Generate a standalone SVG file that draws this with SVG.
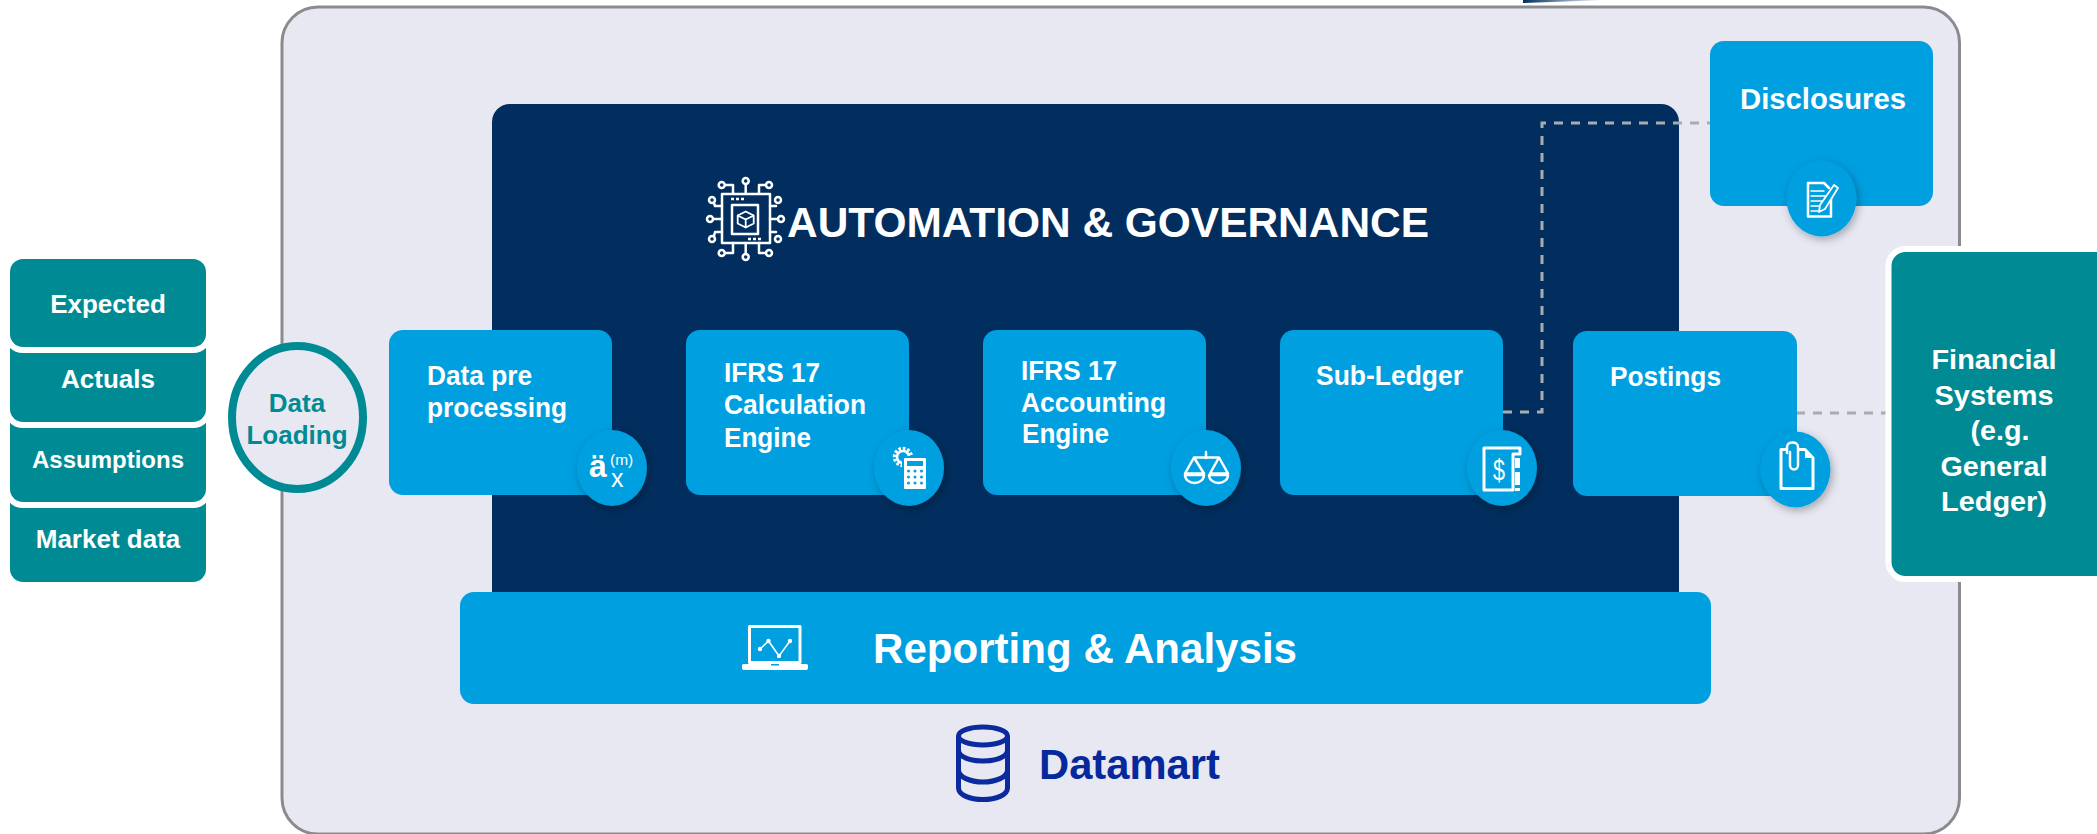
<svg xmlns="http://www.w3.org/2000/svg" width="2097" height="834" viewBox="0 0 2097 834">
<defs>
<linearGradient id="fade" x1="0" x2="1" y1="0" y2="0"><stop offset="0" stop-color="#012e5e"/><stop offset="1" stop-color="#012e5e" stop-opacity="0"/></linearGradient>
<filter id="sh" x="-30%" y="-30%" width="160%" height="160%"><feDropShadow dx="2" dy="3" stdDeviation="4" flood-color="#000" flood-opacity="0.3"/></filter>
</defs>
<style>
text{font-family:"Liberation Sans",Arial,sans-serif;font-weight:700;fill:#fff}
.b{fill:#009fe0}
.t{fill:#008b94}
.st{fill:#008b94;stroke:#fff;stroke-width:12;paint-order:stroke}
.bub{fill:#009fe0;filter:url(#sh)}
.ic{fill:none;stroke:#fff;stroke-width:2.5;stroke-linejoin:round;stroke-linecap:round}
.w{fill:#fff}
.c{text-anchor:middle}
.n{font-weight:400}
.d{fill:none;stroke:#a9abaf;stroke-width:3;stroke-dasharray:9 8}
</style>
<path d="M1523 0H1606L1523 3Z" fill="url(#fade)"/>
<g id="outer"><rect x="282" y="7" width="1677.500" height="827" rx="36" fill="#e7e8f2" stroke="#8b8b8f" stroke-width="3"/></g>
<g id="automation">
<rect x="492" y="104" width="1187" height="510" rx="18" fill="#012e5e"/>
<g id="chip" class="ic">
<rect x="722" y="194" width="48" height="49"/>
<rect x="732" y="205" width="26" height="29"/>
<path d="M745.700 211.500l-8 4v8l8 4 8-4v-8zM737.700 215.500l8 4 8-4M745.700 219.500v8" style="stroke-width:1.800"/>
<path d="M745.700 193v-9M722 219h-9M770 219h8M745.700 243v11M733 193v-8h-8M759 193v-8h7M722 206h-7l-1-3M722 232h-7l-1 4M770 206h6M770 232h6M733 243v10h-8M759 243v10h7"/>
<g fill="#012e5e"><circle cx="745.700" cy="181" r="3"/><circle cx="721.700" cy="185" r="3"/><circle cx="769" cy="185" r="3"/><circle cx="712" cy="200" r="3"/><circle cx="778" cy="200" r="3"/><circle cx="710" cy="219" r="3"/><circle cx="781" cy="219" r="3"/><circle cx="712" cy="239" r="3"/><circle cx="778" cy="239" r="3"/><circle cx="721.700" cy="253" r="3"/><circle cx="769" cy="253" r="3"/><circle cx="745.700" cy="257" r="3"/></g>
</g>
<path d="M731 199h3M736 199h3M741 199h3M748 239h3M753 239h3M758 239h3" stroke="#fff" stroke-width="2.500"/>
<text x="787" y="237" font-size="42" textLength="642" lengthAdjust="spacingAndGlyphs">AUTOMATION &amp; GOVERNANCE</text>
</g>
<g id="connectors">
<path class="d" d="M1503 412H1542V123H1710"/>
<path class="d" d="M1796 413H1891"/>
</g>
<g id="data-pre">
<rect class="b" x="389" y="330" width="223" height="165" rx="14"/>
<text x="427" y="385" font-size="27" textLength="105" lengthAdjust="spacingAndGlyphs">Data pre</text>
<text x="427" y="417" font-size="27" textLength="140" lengthAdjust="spacingAndGlyphs">processing</text>
<ellipse class="bub" cx="612" cy="468" rx="35" ry="38"/>
<text x="589" y="477" font-size="32">ä</text>
<text class="n" x="610" y="465" font-size="15.500">(m)</text>
<text class="n" x="611" y="487" font-size="25">x</text>
</g>
<g id="calc">
<rect class="b" x="686" y="330" width="223" height="165" rx="14"/>
<text x="724" y="382" font-size="27" textLength="96" lengthAdjust="spacingAndGlyphs">IFRS 17</text>
<text x="724" y="414" font-size="27" textLength="142" lengthAdjust="spacingAndGlyphs">Calculation</text>
<text x="724" y="447" font-size="27" textLength="87" lengthAdjust="spacingAndGlyphs">Engine</text>
<ellipse class="bub" cx="909" cy="468" rx="35" ry="38"/>
<circle cx="903" cy="457" r="8.500" fill="none" stroke="#fff" stroke-width="3.500" stroke-dasharray="2.600 1.800"/>
<circle cx="903" cy="457" r="6" fill="none" stroke="#fff" stroke-width="2.500"/>
<rect x="902" y="456" width="26" height="35" fill="#009fe0"/>
<rect class="w" x="904" y="458" width="22" height="31" rx="1"/>
<g fill="#009fe0"><rect x="907" y="461" width="16" height="5"/><circle cx="908.500" cy="471" r="1.500"/><circle cx="915" cy="471" r="1.500"/><circle cx="921.500" cy="471" r="1.500"/><circle cx="908.500" cy="477" r="1.500"/><circle cx="915" cy="477" r="1.500"/><circle cx="921.500" cy="477" r="1.500"/><circle cx="908.500" cy="483" r="1.500"/><circle cx="915" cy="483" r="1.500"/><circle cx="921.500" cy="483" r="1.500"/></g>
</g>
<g id="accounting">
<rect class="b" x="983" y="330" width="223" height="165" rx="14"/>
<text x="1021" y="380" font-size="27" textLength="96" lengthAdjust="spacingAndGlyphs">IFRS 17</text>
<text x="1021" y="412" font-size="27" textLength="145" lengthAdjust="spacingAndGlyphs">Accounting</text>
<text x="1022" y="443" font-size="27" textLength="87" lengthAdjust="spacingAndGlyphs">Engine</text>
<ellipse class="bub" cx="1206" cy="468" rx="35" ry="38"/>
<path class="ic" d="M1206 452v6M1194 457.500h24M1194 457.500l-9 16h19zM1219 457.500l-9 16h18z"/>
<path class="ic" d="M1185 475a9.500 8 0 0 0 19 0zM1209 475a9.500 8 0 0 0 19 0z"/>
</g>
<g id="sub-ledger">
<rect class="b" x="1280" y="330" width="223" height="165" rx="14"/>
<text x="1316" y="385" font-size="27" textLength="147" lengthAdjust="spacingAndGlyphs">Sub-Ledger</text>
<ellipse class="bub" cx="1502" cy="468" rx="35" ry="38"/>
<path class="ic" d="M1512 490H1484V448H1520V454H1513V490" style="stroke-width:3"/>
<rect class="w" x="1515" y="472" width="5" height="13"/>
<rect class="w" x="1515" y="488" width="5" height="3"/>
<rect class="w" x="1515" y="458" width="5" height="10"/>
<text class="n" x="1493" y="480" font-size="30" textLength="12" lengthAdjust="spacingAndGlyphs">$</text>
</g>
<g id="postings">
<rect class="b" x="1573" y="331" width="224" height="165" rx="14"/>
<text x="1610" y="385.500" font-size="27" textLength="111" lengthAdjust="spacingAndGlyphs">Postings</text>
<ellipse class="bub" cx="1795.500" cy="469.500" rx="35" ry="38"/>
<path class="ic" d="M1781 449.500H1805L1813 458V488.500H1781Z" style="stroke-width:3"/>
<path class="w" d="M1805 449.500l8 8.500h-8z"/>
<path class="ic" d="M1787 453V447C1787 441 1798 441 1798 447V465C1798 471 1790 471 1790 465V452" fill="#009fe0" style="fill:#009fe0"/>
</g>
<g id="disclosures">
<rect class="b" x="1710" y="41" width="223" height="165" rx="14"/>
<text x="1740" y="108.500" font-size="29" textLength="166" lengthAdjust="spacingAndGlyphs">Disclosures</text>
<ellipse class="bub" cx="1821.500" cy="198.500" rx="35" ry="38"/>
<path class="ic" d="M1831 198V216.500H1808V183H1824L1829 188"/>
<path class="ic" style="stroke-width:1.300" d="M1811 191H1824M1811 196H1826M1811 201H1824M1811 206H1820M1811 211H1818"/>
<path class="ic" style="stroke-width:1.800;fill:#009fe0" d="M1820 205L1834 185L1838 188L1825 209L1819 212Z"/>
</g>
<g id="reporting">
<rect class="b" x="460" y="592" width="1251" height="112" rx="14"/>
<rect class="ic" x="749.500" y="626.500" width="50.500" height="36" style="stroke-width:3"/>
<path d="M743.500 664H806.500Q808 664 808 665.500V668Q808 670 806 670H744Q742 670 742 668V665.500Q742 664 743.500 664Z" class="w"/>
<rect x="771" y="664" width="8" height="1.500" fill="#009fe0"/>
<path class="ic" style="stroke-width:1.500" d="M760 649L768.500 641L779 656L790 641"/>
<g class="w"><circle cx="760" cy="649" r="2.200"/><circle cx="768.500" cy="641" r="2.200"/><circle cx="779" cy="656" r="2.200"/><circle cx="790" cy="641" r="2.200"/></g>
<text x="873" y="663" font-size="43" textLength="424" lengthAdjust="spacingAndGlyphs">Reporting &amp; Analysis</text>
</g>
<g id="datamart">
<g fill="none" stroke="#0a2a9e" stroke-width="5">
<ellipse cx="983" cy="736" rx="24.500" ry="9"/>
<path d="M958.500 736V788C958.500 795 970 799.500 983 799.500S1007.500 795 1007.500 788V736M958.500 750C958.500 757 970 761 983 761S1007.500 757 1007.500 750M958.500 770C958.500 777 970 782 983 782S1007.500 777 1007.500 770"/>
</g>
<text x="1039" y="779" font-size="43" textLength="181" lengthAdjust="spacingAndGlyphs" style="fill:#05299d">Datamart</text>
</g>
<g id="inputs">
<rect class="t" x="10" y="490" width="196" height="92" rx="13"/>
<text class="c" x="108" y="548" font-size="26">Market data</text>
<rect class="st" x="10" y="410" width="196" height="92" rx="13"/>
<text class="c" x="108" y="468" font-size="24">Assumptions</text>
<rect class="st" x="10" y="330" width="196" height="92" rx="13"/>
<text class="c" x="108" y="388" font-size="26">Actuals</text>
<rect class="st" x="10" y="259" width="196" height="88" rx="13"/>
<text class="c" x="108" y="313" font-size="26">Expected</text>
</g>
<g id="data-loading">
<ellipse cx="297.500" cy="417.500" rx="65.500" ry="71.500" fill="#e7e8f2" stroke="#008b94" stroke-width="8"/>
<text class="c" x="297" y="412" font-size="26" style="fill:#008b94">Data</text>
<text class="c" x="297" y="444" font-size="26" style="fill:#008b94">Loading</text>
</g>
<g id="financial">
<rect class="st" x="1891.500" y="252" width="220" height="324" rx="14"/>
<text class="c" x="1994" y="369" font-size="28" textLength="125" lengthAdjust="spacingAndGlyphs">Financial</text>
<text class="c" x="1994" y="405" font-size="28" textLength="119" lengthAdjust="spacingAndGlyphs">Systems</text>
<text class="c" x="2000" y="440" font-size="28" textLength="59" lengthAdjust="spacingAndGlyphs">(e.g.</text>
<text class="c" x="1994" y="476" font-size="28" textLength="107" lengthAdjust="spacingAndGlyphs">General</text>
<text class="c" x="1994" y="511" font-size="28" textLength="106" lengthAdjust="spacingAndGlyphs">Ledger)</text>
</g>
</svg>
